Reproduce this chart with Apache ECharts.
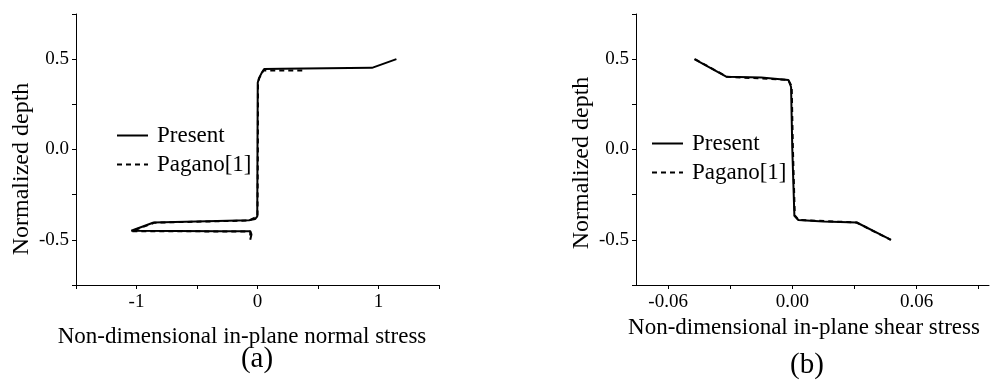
<!DOCTYPE html>
<html>
<head>
<meta charset="utf-8">
<script src="https://cdn.jsdelivr.net/npm/echarts@6/dist/echarts.min.js"></script>
<style>
  html, body { margin: 0; padding: 0; background: #fff; }
  #chart { width: 990px; height: 381px; }
</style>
</head>
<body>
<div id="chart"></div>
<script>
// (a) normal stress vs depth
const normalPresent = [
  [1.148, 0.5], [0.946, 0.452], [0.2, 0.447], [0.055, 0.445], [0.04, 0.43],
  [0.012, 0.395], [0.002, 0.37], [0.0, 0.0], [-0.002, -0.37], [-0.02, -0.385],
  [-0.07, -0.392], [-0.858, -0.404], [-1.043, -0.45], [-0.3, -0.452],
  [-0.06, -0.452], [-0.05, -0.47], [-0.06, -0.5]
];
const normalPagano = [
  [0.37, 0.437], [0.05, 0.438], [0.015, 0.395], [0.004, 0.37], [0.003, 0.0],
  [0.0, -0.37], [-0.07, -0.393], [-0.85, -0.405], [-1.04, -0.452],
  [-0.06, -0.454], [-0.06, -0.49]
];
// (b) shear stress vs depth
const shearPresent = [
  [-0.0473, 0.5], [-0.0317, 0.402], [-0.015, 0.398], [-0.0019, 0.385],
  [-0.0006, 0.346], [0.0, 0.0], [0.001, -0.367], [0.0029, -0.39],
  [0.015, -0.398], [0.0311, -0.404], [0.0477, -0.5]
];
const shearPagano = [
  [-0.047, 0.5], [-0.0315, 0.402], [-0.002, 0.386], [-0.0003, 0.35],
  [0.0003, 0.0], [0.0012, -0.365], [0.003, -0.39], [0.031, -0.404], [0.0475, -0.5]
];
const depthTicks = [-0.75, -0.5, -0.25, 0, 0.25, 0.5, 0.75];
const depthLabels = [-0.5, 0, 0.5];
const normalTicks = [-1.5, -1, -0.5, 0, 0.5, 1, 1.5];
const normalLabels = [-1, 0, 1];
const shearTicks = [-0.06, -0.03, 0, 0.03, 0.06, 0.09];
const shearLabels = [-0.06, 0, 0.06];

const FONT = 'Liberation Serif';

function xAxis(idx, min, max, ticks, labels, fmt) {
  return {
    type: 'value', gridIndex: idx, min: min, max: max,
    axisLine: { onZero: false, lineStyle: { color: '#000', width: 1 } },
    axisTick: { length: 4, lineStyle: { color: '#000' }, customValues: ticks },
    axisLabel: { customValues: labels, color: '#000', fontFamily: FONT, fontSize: 19, margin: 8, formatter: fmt },
    splitLine: { show: false }
  };
}
function yAxis(idx) {
  return {
    type: 'value', gridIndex: idx, min: -0.75, max: 0.75,
    axisLine: { show: true, onZero: false, lineStyle: { color: '#000', width: 1 } },
    axisTick: { show: true, length: 4, lineStyle: { color: '#000' }, customValues: depthTicks },
    axisLabel: { customValues: depthLabels, color: '#000', fontFamily: FONT, fontSize: 19, margin: 7,
      formatter: v => v.toFixed(1) },
    splitLine: { show: false }
  };
}
function line(name, data, idx, dashed) {
  return {
    name: name, type: 'line', xAxisIndex: idx, yAxisIndex: idx, data: data,
    symbol: 'none', silent: true, animation: false, color: '#000',
    lineStyle: { color: '#000', width: 2, type: dashed ? [5, 4] : 'solid' }
  };
}
function legend(left, top, names) {
  return {
    left: left, top: top, orient: 'vertical', itemWidth: 31, itemHeight: 14, itemGap: 6,
    itemStyle: { opacity: 0 },
    textStyle: { fontFamily: FONT, fontSize: 23, color: '#000', padding: [0, 0, 0, 4] },
    data: names, selectedMode: false
  };
}
function txt(x, y, text, size, rot) {
  return {
    type: 'text', x: x, y: y, rotation: rot || 0,
    style: { text: text, font: size + 'px "Liberation Serif"', fill: '#000', align: 'center', verticalAlign: 'middle' }
  };
}

const chart = echarts.init(document.getElementById('chart'));
chart.setOption({
  backgroundColor: '#fff',
  animation: false,
  grid: [
    { left: 76, top: 14, width: 363, height: 271 },
    { left: 636, top: 14, width: 353, height: 271 }
  ],
  xAxis: [
    xAxis(0, -1.5, 1.5, normalTicks, normalLabels, v => String(v)),
    xAxis(1, -0.0755, 0.095, shearTicks, shearLabels, v => v.toFixed(2))
  ],
  yAxis: [yAxis(0), yAxis(1)],
  legend: [
    legend(111, 119, ['Present', 'Pagano[1]']),
    legend(646, 127, ['Present ', 'Pagano[1] '])
  ],
  graphic: [
    txt(242, 337, 'Non-dimensional in-plane normal stress', 23),
    txt(257, 359, '(a)', 29),
    txt(804, 328, 'Non-dimensional in-plane shear stress', 23),
    txt(807, 365, '(b)', 29),
    txt(22, 169, 'Normalized depth', 24, Math.PI / 2),
    txt(582, 163, 'Normalized depth', 24, Math.PI / 2)
  ],
  series: [
    line('Present', normalPresent, 0, false),
    line('Pagano[1]', normalPagano, 0, true),
    line('Present ', shearPresent, 1, false),
    line('Pagano[1] ', shearPagano, 1, true)
  ]
});
</script>
</body>
</html>
